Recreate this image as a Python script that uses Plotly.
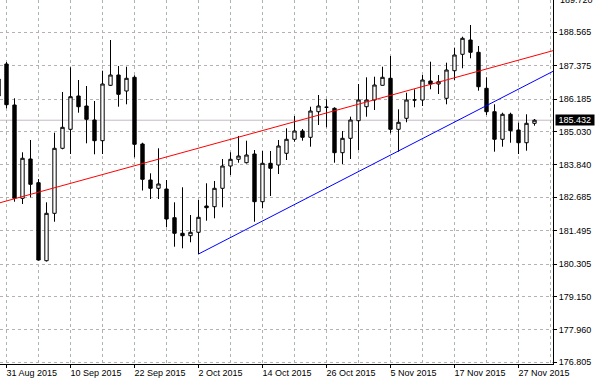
import plotly.graph_objects as go

# ---- data -------------------------------------------------------------
dates = [
    "2015-08-28", "2015-08-31",
    "2015-09-01", "2015-09-02", "2015-09-03", "2015-09-04",
    "2015-09-07", "2015-09-08", "2015-09-09", "2015-09-10", "2015-09-11",
    "2015-09-14", "2015-09-15", "2015-09-16", "2015-09-17", "2015-09-18",
    "2015-09-21", "2015-09-22", "2015-09-23", "2015-09-24", "2015-09-25",
    "2015-09-28", "2015-09-29", "2015-09-30",
    "2015-10-01", "2015-10-02",
    "2015-10-05", "2015-10-06", "2015-10-07", "2015-10-08", "2015-10-09",
    "2015-10-12", "2015-10-13", "2015-10-14", "2015-10-15", "2015-10-16",
    "2015-10-19", "2015-10-20", "2015-10-21", "2015-10-22", "2015-10-23",
    "2015-10-26", "2015-10-27", "2015-10-28", "2015-10-29", "2015-10-30",
    "2015-11-02", "2015-11-03", "2015-11-04", "2015-11-05", "2015-11-06",
    "2015-11-09", "2015-11-10", "2015-11-11", "2015-11-12", "2015-11-13",
    "2015-11-16", "2015-11-17", "2015-11-18", "2015-11-19", "2015-11-20",
    "2015-11-23", "2015-11-24", "2015-11-25", "2015-11-26", "2015-11-27",
    "2015-11-30", "2015-12-01",
]

opens = [
    186.901, 187.435,
    185.974, 182.649, 184.050, 183.205,
    180.425, 182.114, 184.431, 185.108, 186.295,
    185.938, 185.439, 184.702, 186.676, 187.043,
    186.473, 186.961, 184.584, 183.301, 183.005,
    182.980, 181.958, 181.402,
    181.316, 181.437,
    182.375, 182.350, 183.005, 183.800, 184.039,
    183.918, 184.228, 182.528, 183.896, 183.836,
    184.253, 184.752, 185.047, 184.823, 185.735,
    185.892, 185.856, 184.274, 184.787, 185.415,
    185.913, 186.152, 186.676, 186.926, 185.108,
    185.500, 186.152, 186.152, 186.829, 186.722,
    186.213, 187.196, 187.781, 188.290, 187.852,
    186.569, 185.735, 184.752, 185.643, 185.083,
    184.630, 185.322,
]

highs = [
    187.043, 187.506,
    186.213, 184.288, 184.727, 183.337,
    182.506, 184.987, 186.437, 187.318, 186.865,
    186.651, 186.117, 187.196, 188.290, 187.364,
    187.339, 187.032, 184.630, 183.540, 184.431,
    183.301, 182.506, 183.041,
    182.054, 182.588,
    183.184, 183.266, 184.050, 184.288, 184.869,
    184.702, 184.370, 184.335, 184.335, 184.727,
    185.144, 185.582, 185.119, 185.913, 186.330,
    186.177, 185.892, 185.047, 185.557, 186.722,
    186.961, 186.983, 187.339, 187.720, 185.821,
    186.412, 186.534, 187.043, 187.517, 187.043,
    187.482, 188.016, 188.408, 188.825, 188.077,
    186.961, 185.999, 185.700, 185.700, 185.343,
    185.643, 185.475,
]

lows = [
    186.152, 185.856,
    182.528, 182.446, 182.685, 180.432,
    180.397, 181.815, 184.395, 184.228, 185.700,
    184.609, 184.217, 184.228, 186.651, 185.913,
    185.999, 184.110, 182.927, 182.624, 182.624,
    181.616, 180.924, 180.867,
    181.081, 180.664,
    181.851, 181.936, 182.328, 183.479, 183.918,
    183.889, 181.815, 182.293, 182.731, 183.515,
    184.014, 184.666, 184.702, 184.488, 185.261,
    185.179, 183.918, 183.871, 184.050, 184.370,
    185.557, 185.796, 186.669, 184.966, 184.310,
    185.358, 185.892, 185.938, 186.534, 186.366,
    185.999, 186.865, 187.282, 187.638, 186.484,
    185.618, 184.310, 184.488, 184.630, 184.228,
    184.345, 185.236,
]

closes = [
    186.295, 185.985,
    182.649, 184.075, 183.148, 180.450,
    182.114, 184.431, 185.179, 186.270, 185.913,
    185.464, 184.702, 186.722, 187.043, 186.355,
    186.926, 184.573, 183.326, 183.005, 183.159,
    181.911, 181.402, 181.316,
    181.437, 181.972,
    182.314, 183.005, 183.800, 184.039, 184.156,
    184.192, 182.528, 183.896, 183.718, 184.513,
    184.752, 185.047, 184.823, 185.760, 185.938,
    185.895, 184.274, 184.787, 185.439, 186.152,
    186.152, 186.687, 186.961, 185.108, 185.358,
    186.152, 186.155, 186.865, 186.722, 186.804,
    187.221, 187.756, 188.351, 187.852, 186.626,
    185.735, 184.752, 185.643, 185.058, 184.630,
    185.322, 185.432,
]

tick_dates = ["2015-08-31", "2015-09-10", "2015-09-22", "2015-10-02", "2015-10-14",
              "2015-10-26", "2015-11-05", "2015-11-17", "2015-11-27"]
tick_labels = ["31 Aug 2015", "10 Sep 2015", "22 Sep 2015", "2 Oct 2015", "14 Oct 2015",
               "26 Oct 2015", "5 Nov 2015", "17 Nov 2015", "27 Nov 2015"]

price_ticks = [176.805, 177.960, 179.150, 180.305, 181.495, 182.685,
               183.840, 185.030, 186.185, 187.375, 188.565]
top_price_label = 189.720
last_price = 185.432

# trend lines: (bar offset from first date, price)
red_line_x = [0, 70]
red_line_y = [182.476, 187.964]
blue_line_x = [25, 70]
blue_line_y = [180.664, 187.275]

# ---- figure -----------------------------------------------------------
FONT = "Liberation Sans, Arial, sans-serif"
x_index = list(range(len(dates)))
tickvals = [dates.index(d) for d in tick_dates]
y_min, y_max = 176.744, 189.716

fig = go.Figure()

fig.add_shape(type="line", xref="paper", x0=0, x1=1, yref="y",
              y0=last_price, y1=last_price,
              line=dict(color="#c4bcc4", width=1), layer="below")

fig.add_trace(go.Candlestick(
    x=x_index, open=opens, high=highs, low=lows, close=closes,
    increasing=dict(line=dict(color="black", width=1), fillcolor="white"),
    decreasing=dict(line=dict(color="black", width=1), fillcolor="black"),
    whiskerwidth=0, showlegend=False, hoverinfo="skip",
))

fig.add_trace(go.Scatter(x=red_line_x, y=red_line_y, mode="lines",
                         line=dict(color="#ff0000", width=1),
                         showlegend=False, hoverinfo="skip"))
fig.add_trace(go.Scatter(x=blue_line_x, y=blue_line_y, mode="lines",
                         line=dict(color="#0000ff", width=1),
                         showlegend=False, hoverinfo="skip"))

fig.update_layout(
    width=602, height=382,
    margin=dict(l=0, r=49, t=0, b=18, autoexpand=False),
    paper_bgcolor="white", plot_bgcolor="white",
    boxgap=0.4,
    font=dict(family=FONT, size=9, color="black"),
    showlegend=False,
    xaxis=dict(
        range=[0.1875, 69.3125],
        tickmode="array", tickvals=tickvals, ticktext=tick_labels,
        ticklabelposition="outside right",
        ticklabelstandoff=0, ticklabelshift=-1,
        ticks="outside", ticklen=3, tickcolor="black",
        showgrid=True, gridcolor="#a9b8a9", griddash="3px,3px", gridwidth=1,
        minor=dict(tickmode="linear", tick0=1, dtick=4, showgrid=True,
                   gridcolor="#a9b8a9", griddash="3px,3px", ticks=""),
        showline=True, linecolor="black", linewidth=1,
        zeroline=False, rangeslider=dict(visible=False),
        tickfont=dict(family=FONT, size=9, color="black"),
        automargin=False, fixedrange=True,
    ),
    yaxis=dict(
        range=[y_min, y_max], side="right",
        tickmode="array", tickvals=price_ticks,
        ticktext=["%.3f" % v for v in price_ticks],
        ticks="outside", ticklen=3, tickcolor="black",
        showgrid=True, gridcolor="#b6b0b6", griddash="3px,3px", gridwidth=1,
        showline=True, linecolor="black", linewidth=1,
        zeroline=False,
        tickfont=dict(family=FONT, size=9, color="black"),
        automargin=False, fixedrange=True,
    ),
)

fig.add_annotation(xref="paper", x=1, xshift=2, xanchor="left",
                   yref="y", y=last_price, yanchor="middle",
                   text="&nbsp;%.3f&nbsp;" % last_price, showarrow=False,
                   bgcolor="black", borderpad=0,
                   font=dict(family=FONT, size=9, color="white"))

fig.add_annotation(xref="paper", x=1, xshift=5, xanchor="left",
                   yref="paper", y=(top_price_label - y_min) / (y_max - y_min),
                   yanchor="middle", text="%.3f" % top_price_label,
                   showarrow=False,
                   font=dict(family=FONT, size=9, color="black"))

fig.write_html("out.html", config=dict(displayModeBar=False),
               post_script="document.body.style.margin='0';document.body.style.overflow='hidden';")
